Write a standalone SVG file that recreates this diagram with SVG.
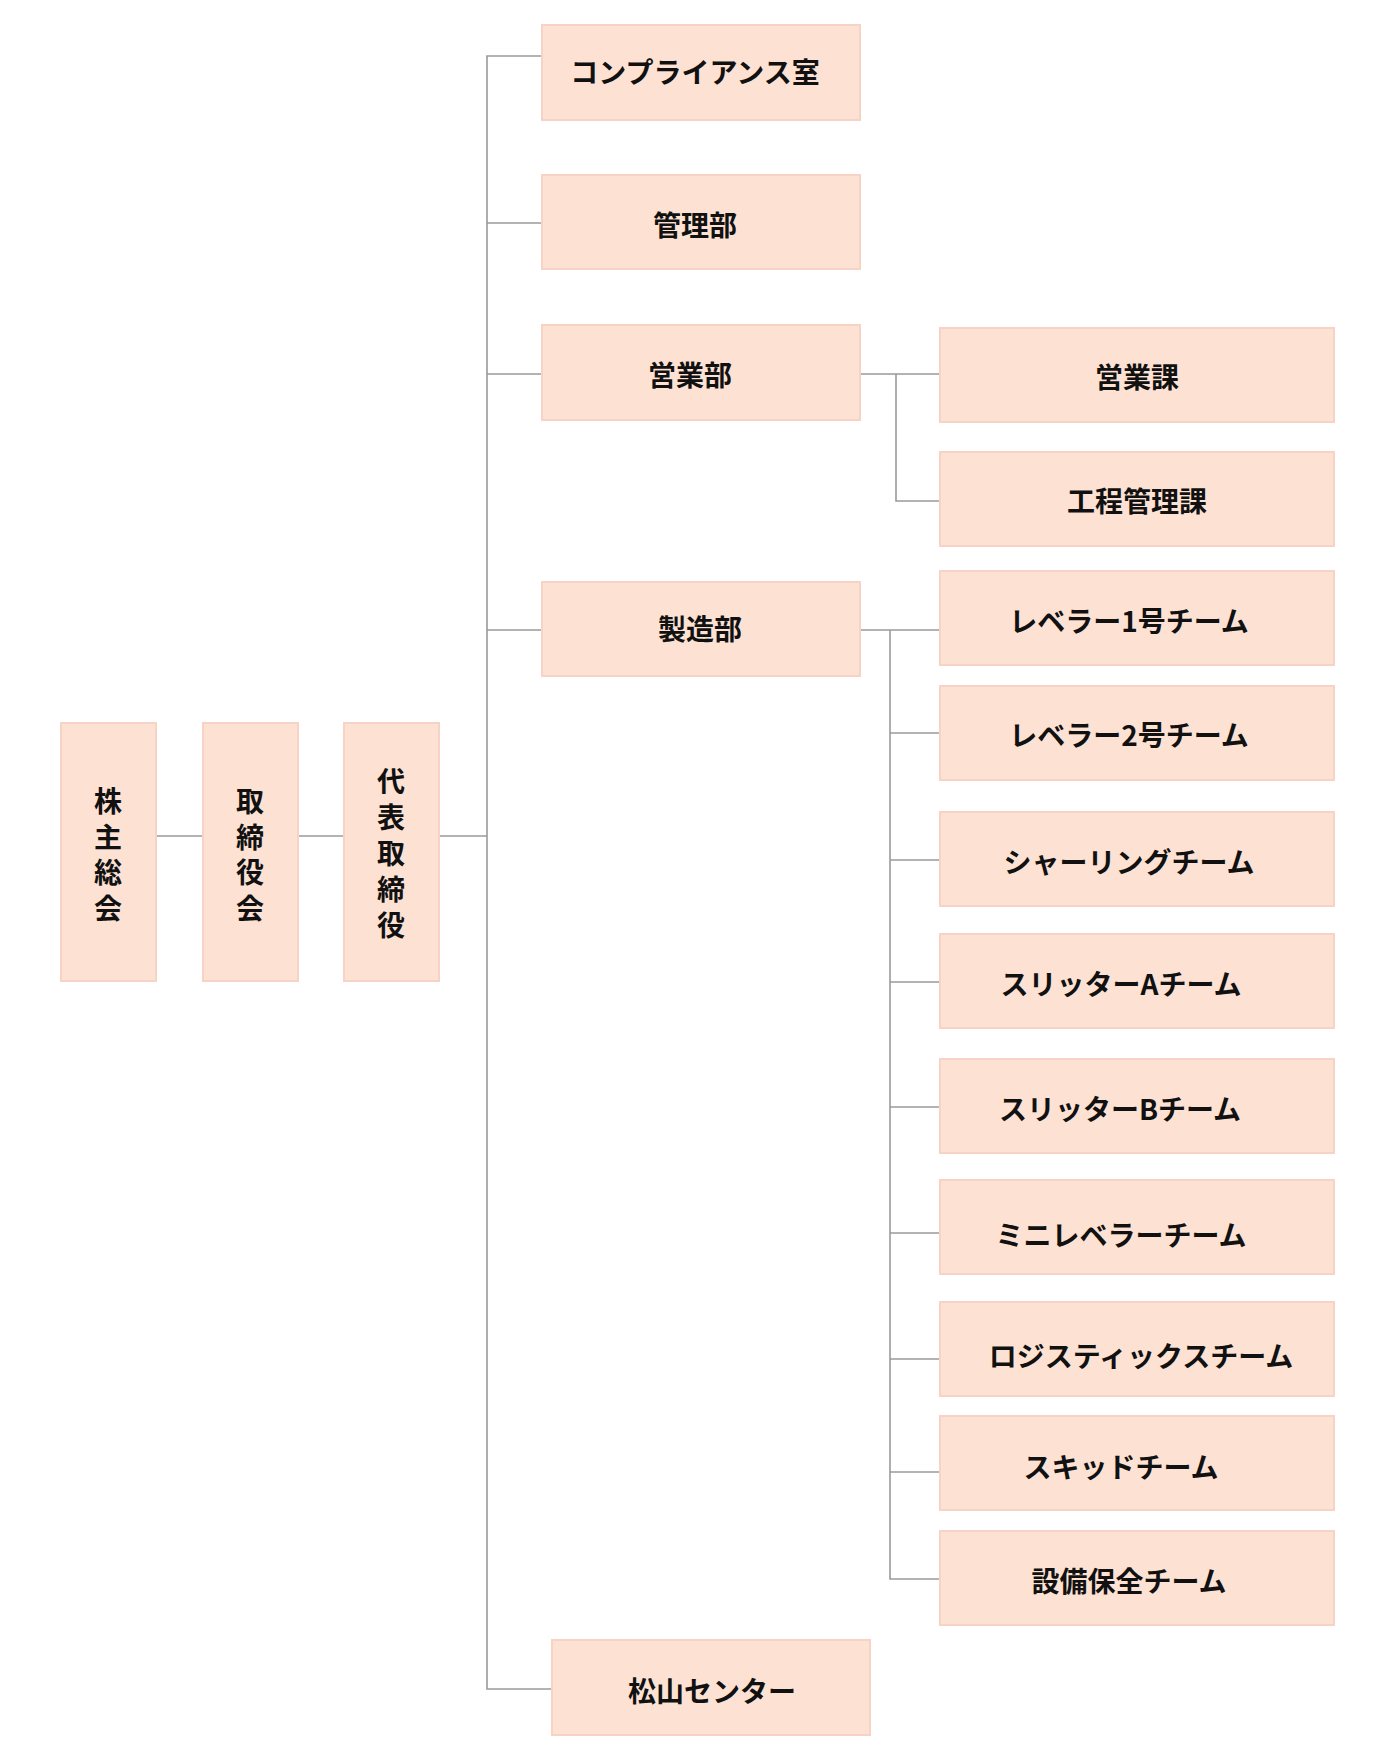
<svg xmlns="http://www.w3.org/2000/svg" width="1400" height="1739" viewBox="0 0 1400 1739">
<style>
.b{fill:#fde2d4;stroke:#f6d3c5;stroke-width:2}
.t{font-family:"Noto Sans CJK JP",sans-serif;font-weight:bold;font-size:28px;fill:#111;text-anchor:middle;dominant-baseline:central}
.c{stroke:#9a9a9a;stroke-width:1.6;fill:none}
</style>
<rect width="1400" height="1739" fill="#fff"/>
<g id="connectors">
<path class="c" d="M156 836H203M298 836H343M439 836H487M542 56H487V1689H552M487 223H542M487 374H542M487 630H542"/>
<path class="c" d="M860 374H940M896 374V501H940"/>
<path class="c" d="M860 630H940M890 630V1579H940M890 733H940M890 860H940M890 982H940M890 1107H940M890 1233H940M890 1359H940M890 1472H940"/>
</g>
<g id="n1"><rect class="b" x="61" y="723" width="95" height="258"/><text class="t" x="108"><tspan x="108" y="800">株</tspan><tspan x="108" y="836">主</tspan><tspan x="108" y="871">総</tspan><tspan x="108" y="907">会</tspan></text></g>
<g id="n2"><rect class="b" x="203" y="723" width="95" height="258"/><text class="t"><tspan x="250" y="800">取</tspan><tspan x="250" y="836">締</tspan><tspan x="250" y="871">役</tspan><tspan x="250" y="907">会</tspan></text></g>
<g id="n3"><rect class="b" x="344" y="723" width="95" height="258"/><text class="t"><tspan x="391" y="780">代</tspan><tspan x="391" y="816">表</tspan><tspan x="391" y="852">取</tspan><tspan x="391" y="888">締</tspan><tspan x="391" y="924">役</tspan></text></g>
<g id="n4"><rect class="b" x="542" y="25" width="318" height="95"/><text class="t" x="695" y="71">コンプライアンス室</text></g>
<g id="n5"><rect class="b" x="542" y="175" width="318" height="94"/><text class="t" x="695" y="224">管理部</text></g>
<g id="n6"><rect class="b" x="542" y="325" width="318" height="95"/><text class="t" x="690" y="374">営業部</text></g>
<g id="n7"><rect class="b" x="542" y="582" width="318" height="94"/><text class="t" x="700" y="628">製造部</text></g>
<g id="n8"><rect class="b" x="552" y="1640" width="318" height="95"/><text class="t" x="712" y="1690">松山センター</text></g>
<g id="n9"><rect class="b" x="940" y="328" width="394" height="94"/><text class="t" x="1137" y="376">営業課</text></g>
<g id="n10"><rect class="b" x="940" y="452" width="394" height="94"/><text class="t" x="1137" y="500">工程管理課</text></g>
<g id="n11"><rect class="b" x="940" y="571" width="394" height="94"/><text class="t" x="1129" y="620">レベラー1号チーム</text></g>
<g id="n12"><rect class="b" x="940" y="686" width="394" height="94"/><text class="t" x="1129" y="734">レベラー2号チーム</text></g>
<g id="n13"><rect class="b" x="940" y="812" width="394" height="94"/><text class="t" x="1129" y="861">シャーリングチーム</text></g>
<g id="n14"><rect class="b" x="940" y="934" width="394" height="94"/><text class="t" x="1121" y="983">スリッターAチーム</text></g>
<g id="n15"><rect class="b" x="940" y="1059" width="394" height="94"/><text class="t" x="1120" y="1108">スリッターBチーム</text></g>
<g id="n16"><rect class="b" x="940" y="1180" width="394" height="94"/><text class="t" x="1121" y="1234">ミニレベラーチーム</text></g>
<g id="n17"><rect class="b" x="940" y="1302" width="394" height="94"/><text class="t" x="1141" y="1355">ロジスティックスチーム</text></g>
<g id="n18"><rect class="b" x="940" y="1416" width="394" height="94"/><text class="t" x="1121" y="1466">スキッドチーム</text></g>
<g id="n19"><rect class="b" x="940" y="1531" width="394" height="94"/><text class="t" x="1129" y="1580">設備保全チーム</text></g>
</svg>
